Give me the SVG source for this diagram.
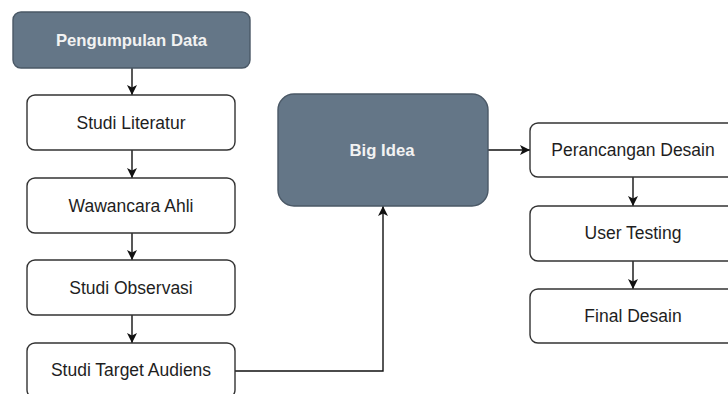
<svg xmlns="http://www.w3.org/2000/svg" width="728" height="394" viewBox="0 0 728 394">
<defs>
<style>
.box{fill:#ffffff;stroke:#333333;stroke-width:1.4}
.dark{fill:#647687;stroke:#4a5866;stroke-width:1.4}
.t{font-family:"Liberation Sans",Arial,sans-serif;font-size:17.5px;fill:#1e1e1e;text-anchor:middle;dominant-baseline:central}
.tw{font-family:"Liberation Sans",Arial,sans-serif;font-size:16.7px;font-weight:bold;fill:#f2f2f2;text-anchor:middle;dominant-baseline:central}
.c{fill:none;stroke:#111111;stroke-width:1.4}
</style>
<marker id="ah" viewBox="0 0 10 10" refX="10" refY="5" markerWidth="10" markerHeight="10" markerUnits="userSpaceOnUse" orient="auto">
<path d="M0,0 L10,5 L0,10 L2.5,5 Z" fill="#111111"/>
</marker>
</defs>
<rect width="728" height="394" fill="#ffffff"/>
<g id="connectors">
<path class="c" d="M132,68 V95" marker-end="url(#ah)"/>
<path class="c" d="M132,150 V178" marker-end="url(#ah)"/>
<path class="c" d="M132,233 V260" marker-end="url(#ah)"/>
<path class="c" d="M132,315 V343" marker-end="url(#ah)"/>
<path class="c" d="M235,371 H383 V206" marker-end="url(#ah)"/>
<path class="c" d="M488,150 H530" marker-end="url(#ah)"/>
<path class="c" d="M633,177 V206" marker-end="url(#ah)"/>
<path class="c" d="M633,261 V289" marker-end="url(#ah)"/>
</g>
<g id="pengumpulan-data"><rect class="dark" x="13" y="12" width="237" height="56" rx="8"/><text class="tw" x="131.5" y="40">Pengumpulan Data</text></g>
<g id="studi-literatur"><rect class="box" x="27" y="95" width="208" height="55" rx="8"/><text class="t" x="131" y="123">Studi Literatur</text></g>
<g id="wawancara-ahli"><rect class="box" x="27" y="178" width="208" height="55" rx="8"/><text class="t" x="131" y="206">Wawancara Ahli</text></g>
<g id="studi-observasi"><rect class="box" x="27" y="260" width="208" height="55" rx="8"/><text class="t" x="131" y="288">Studi Observasi</text></g>
<g id="studi-target-audiens"><rect class="box" x="27" y="343" width="208" height="55" rx="8"/><text class="t" x="131" y="370">Studi Target Audiens</text></g>
<g id="big-idea"><rect class="dark" x="278" y="94" width="210" height="112" rx="16"/><text class="tw" x="382" y="150">Big Idea</text></g>
<g id="perancangan-desain"><rect class="box" x="530" y="123" width="208" height="54" rx="8"/><text class="t" x="633" y="150">Perancangan Desain</text></g>
<g id="user-testing"><rect class="box" x="530" y="206" width="208" height="55" rx="8"/><text class="t" x="633" y="233">User Testing</text></g>
<g id="final-desain"><rect class="box" x="530" y="289" width="208" height="54" rx="8"/><text class="t" x="633" y="316">Final Desain</text></g>
</svg>
